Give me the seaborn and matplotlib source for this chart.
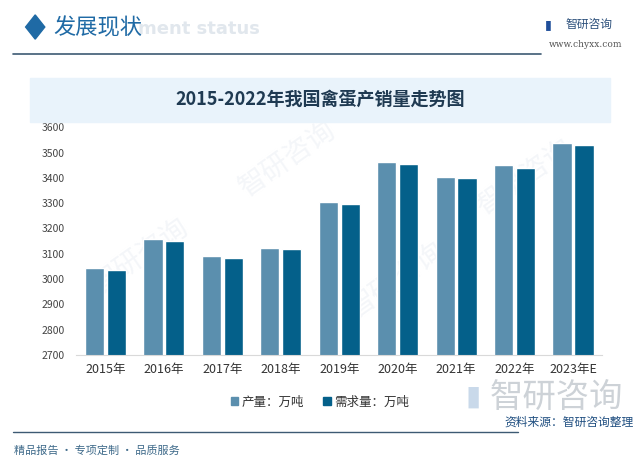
import pandas as pd
import matplotlib.pyplot as plt
import seaborn as sns
from matplotlib.patches import Rectangle, Polygon
from matplotlib.lines import Line2D

# data (万吨)
years = ['2015年', '2016年', '2017年', '2018年', '2019年', '2020年', '2021年', '2022年', '2023年E']
production = [3043, 3157, 3092, 3123, 3304, 3463, 3405, 3451, 3537]
demand = [3037, 3149, 3085, 3119, 3296, 3455, 3398, 3440, 3528]
series = ['产量：万吨', '需求量：万吨']
colors = ['#5B8FAE', '#04608A']

df = pd.DataFrame({'year': years, series[0]: production, series[1]: demand})
df = df.melt(id_vars='year', var_name='series', value_name='value')

sns.set_style('white')
plt.rcParams['font.family'] = ['Noto Sans CJK SC', 'DejaVu Sans']

fig = plt.figure(figsize=(6.4, 4.66), dpi=100)
fig.patch.set_facecolor('white')

# faint watermarks behind everything
for (wx, wy) in [(0.45, 0.66), (0.22, 0.45), (0.62, 0.40), (0.82, 0.62)]:
    fig.text(wx, wy, '智研咨询', fontsize=20, color='#F4F6F9', rotation=35,
             ha='center', va='center', zorder=-1)

# header
fig.patches.append(Polygon([[0.040, 0.942], [0.055, 0.968], [0.070, 0.942], [0.055, 0.916]],
                           closed=True, transform=fig.transFigure, color='#1F6AA5', zorder=2))
fig.text(0.215, 0.937, 'ment status', fontsize=13, color='#E1E7ED', fontweight='bold',
         ha='left', va='center', family='DejaVu Sans', zorder=1)
fig.text(0.083, 0.940, '发展现状', fontsize=16, color='#1F6AA5', ha='left', va='center', zorder=2)
fig.lines.append(Line2D([0.02, 0.845], [0.884, 0.884], transform=fig.transFigure,
                        color='#3D5A73', lw=1.2))
fig.text(0.852, 0.948, '▮', fontsize=9, color='#1F4E9A', ha='left', va='center')
fig.text(0.884, 0.948, '智研咨询', fontsize=8.5, color='#2A4E7A', ha='left', va='center')
fig.text(0.972, 0.905, 'www.chyxx.com', fontsize=6.5, color='#555555', ha='right', va='center',
         family='DejaVu Serif')

# title band
fig.patches.append(Rectangle((0.047, 0.738), 0.906, 0.095, transform=fig.transFigure,
                             color='#E9F3FB', zorder=1))
fig.text(0.5, 0.786, '2015-2022年我国禽蛋产销量走势图', fontsize=13, fontweight='bold',
         color='#1F3A52', ha='center', va='center', zorder=2)

ax = fig.add_axes([0.119, 0.238, 0.822, 0.489])
ax.set_facecolor('none')
sns.barplot(data=df, x='year', y='value', hue='series', palette=colors,
            width=0.75, gap=0.12, saturation=1, ax=ax, legend=False)
ax.set_ylim(2700, 3600)
ax.set_xlim(-0.5, len(years) - 0.5)
ax.set_yticks(range(2700, 3601, 100))
ax.tick_params(axis='y', labelsize=7.5, colors='#444444', length=0, pad=8)
ax.tick_params(axis='x', labelsize=9, colors='#333333', length=0, pad=6)
ax.set_xlabel('')
ax.set_ylabel('')
for s in ['top', 'right', 'left']:
    ax.spines[s].set_visible(False)
ax.spines['bottom'].set_color('#D9D9D9')

handles = [Rectangle((0, 0), 1, 1, color=c) for c in colors]
fig.legend(handles, series, loc='center', bbox_to_anchor=(0.5, 0.137), ncol=2,
           frameon=False, fontsize=9, handlelength=0.6, handleheight=0.6,
           handletextpad=0.3, columnspacing=1.5, labelcolor='#333333')

# footer
fig.text(0.74, 0.148, '▮', fontsize=20, color='#C9D9EA', ha='center', va='center', zorder=1)
fig.text(0.87, 0.148, '智研咨询', fontsize=24, color='#CDD2D7', ha='center', va='center', zorder=1)
fig.lines.append(Line2D([0.02, 0.81], [0.073, 0.073], transform=fig.transFigure,
                        color='#3D5A73', lw=1.0))
fig.text(0.99, 0.094, '资料来源：智研咨询整理', fontsize=8.5, color='#1F4E80', ha='right', va='center',
         zorder=2)
fig.text(0.022, 0.034, '精品报告 · 专项定制 · 品质服务', fontsize=8, color='#3E6A8A',
         ha='left', va='center')

fig.savefig('out.png', dpi=100)
